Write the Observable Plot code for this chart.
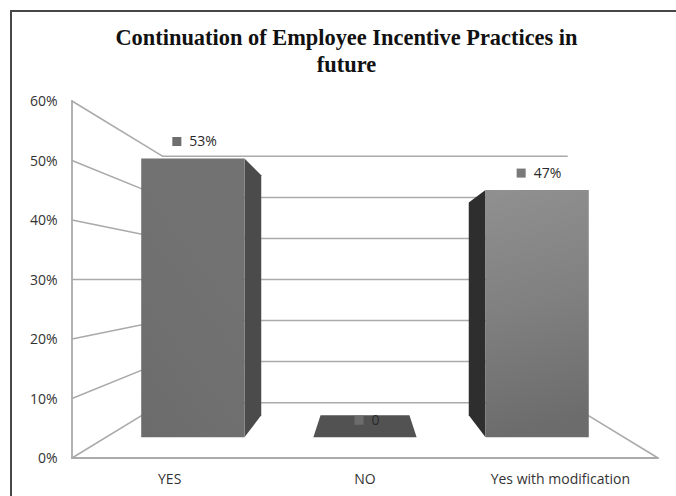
<!DOCTYPE html>
<html>
<head>
<meta charset="utf-8">
<script src="https://cdn.jsdelivr.net/npm/d3@7"></script>
<script src="https://cdn.jsdelivr.net/npm/@observablehq/plot@0.6"></script>
<style>
  html, body { margin: 0; padding: 0; background: #fff; overflow: hidden; }
  #frame { position: relative; width: 676px; height: 496px; box-sizing: border-box; }
  #frame::before { content: ""; position: absolute; left: 10px; top: 10px; right: 0; height: 2px; background: #484848; }
  #frame::after { content: ""; position: absolute; left: 10px; top: 10px; bottom: 0; width: 2px; background: #484848; }
  #title { position: absolute; left: 0; width: 693px; top: 25px; text-align: center;
    font: bold 22.4px/26.5px "Liberation Serif", serif; color: #111; }
  #chart { position: absolute; left: 0; top: 78px; }
  #chart svg { display: block; }
</style>
</head>
<body>
<div id="frame">
  <div id="title">Continuation of Employee Incentive Practices in<br>future</div>
  <div id="chart"></div>
</div>
<script>
const categories = ["YES", "NO", "Yes with modification"];
const values = [53, 0, 47];
const yTicks = [0, 10, 20, 30, 40, 50, 60];
const labels = ["53%", "0", "47%"];

const frontFill = ["url(#barYes)", "#525252", "url(#barMod)"];
const sideFill = ["#4a4b4a", "#525252", "#2e2e2e"];
const keyFill = ["#6e6e6e", "#6c6c6c", "#7a7a7a"];
const gridColor = "#aaaaaa";

// One-point perspective of the 3-D chart, expressed in data units
const vanishC = 1.5, vanishV = 30;
const wallDepth = 0.69, barFront = 0.884, barBack = 0.761;
const halfBar = 0.299, slotPull = 0.997;
const P = (c, v, s) => ({x: vanishC + (c - vanishC) * s, y: vanishV + (v - vanishV) * s});

const poly = (pts, fill) => Plot.line(pts, {x: "x", y: "y", curve: "linear-closed", fill, stroke: "none"});
const seg = (a, b, strokeWidth = 1.5) => Plot.line([a, b], {x: "x", y: "y", stroke: gridColor, strokeWidth});

const gradients = () => {
  const defs = d3.create("svg:defs");
  const add = (id, x2, y2, stops) => {
    const g = defs.append("linearGradient").attr("id", id)
      .attr("x1", 0).attr("y1", 0).attr("x2", x2).attr("y2", y2);
    stops.forEach(([o, c]) => g.append("stop").attr("offset", o).attr("stop-color", c));
  };
  add("barYes", -0.5, 1, [[0, "#717271"], [0.55, "#6d6e6d"], [1, "#696969"]]);
  add("barMod", 0.1, 1, [[0, "#909090"], [0.5, "#7f807f"], [1, "#6b6c6b"]]);
  return defs.node();
};

const gridMarks = yTicks.flatMap(v => [
  seg(P(0, v, 1), P(0, v, wallDepth)),
  seg(P(0, v, wallDepth), P(3, v, wallDepth))
]);

const barMarks = values.flatMap((v, i) => {
  const mid = vanishC + (i - 1) * slotPull;
  const l = mid - halfBar, r = mid + halfBar;
  const inner = mid < vanishC ? r : l;
  const marks = [];
  if (v > 0) {
    marks.push(poly([P(inner, 0, barFront), P(inner, v, barFront), P(inner, v, barBack), P(inner, 0, barBack)], sideFill[i]));
    marks.push(poly([P(l, 0, barFront), P(l, v, barFront), P(r, v, barFront), P(r, 0, barFront)], frontFill[i]));
  } else {
    marks.push(poly([P(l, v, barFront), P(r, v, barFront), P(r, v, barBack), P(l, v, barBack)], sideFill[i]));
  }
  return marks;
});

const labelMarks = values.flatMap((v, i) => {
  const mid = vanishC + (i - 1) * slotPull;
  const at = [P(mid, v, barFront)];
  const w = labels[i].length > 1 ? 28 : 8;
  const start = 2 - (17 + w) / 2;
  return [
    Plot.dot(at, {x: "x", y: "y", symbol: "square", r: 5.1, fill: keyFill[i], stroke: "none", dx: start + 4.5, dy: -17}),
    Plot.text(at, {x: "x", y: "y", text: () => labels[i], textAnchor: "start", dx: start + 17, dy: -17, fill: "#2a2a2a", fontSize: 14})
  ];
});

const chart = Plot.plot({
  width: 676,
  height: 418,
  marginLeft: 72,
  marginRight: 18,
  marginTop: 23,
  marginBottom: 38,
  style: {fontFamily: "'Open Sans', sans-serif", fontSize: "14px", color: "#333", background: "transparent", overflow: "visible"},
  x: {domain: [0, 3], range: [71.5, 657.5]},
  y: {domain: [0, 60], range: [379.5, 22.5]},
  marks: [
    gradients,
    ...gridMarks,
    seg(P(0, 0, 1), P(0, 60, 1), 1.8),
    seg(P(0, 0, 1), P(3, 0, 1), 1.8),
    seg(P(3, 0, 1), P(3, 0, wallDepth)),
    ...barMarks,
    ...labelMarks,
    Plot.axisY({ticks: yTicks, tickSize: 0, tickPadding: 15, dy: 1, tickFormat: d => d + "%", label: null, fontSize: 14}),
    Plot.axisX({ticks: categories.map((_, i) => i + 0.5), tickSize: 0, tickPadding: 15.5, tickFormat: d => categories[Math.floor(d)], label: null, fontSize: 14})
  ]
});
document.getElementById("chart").append(chart);
</script>
</body>
</html>
